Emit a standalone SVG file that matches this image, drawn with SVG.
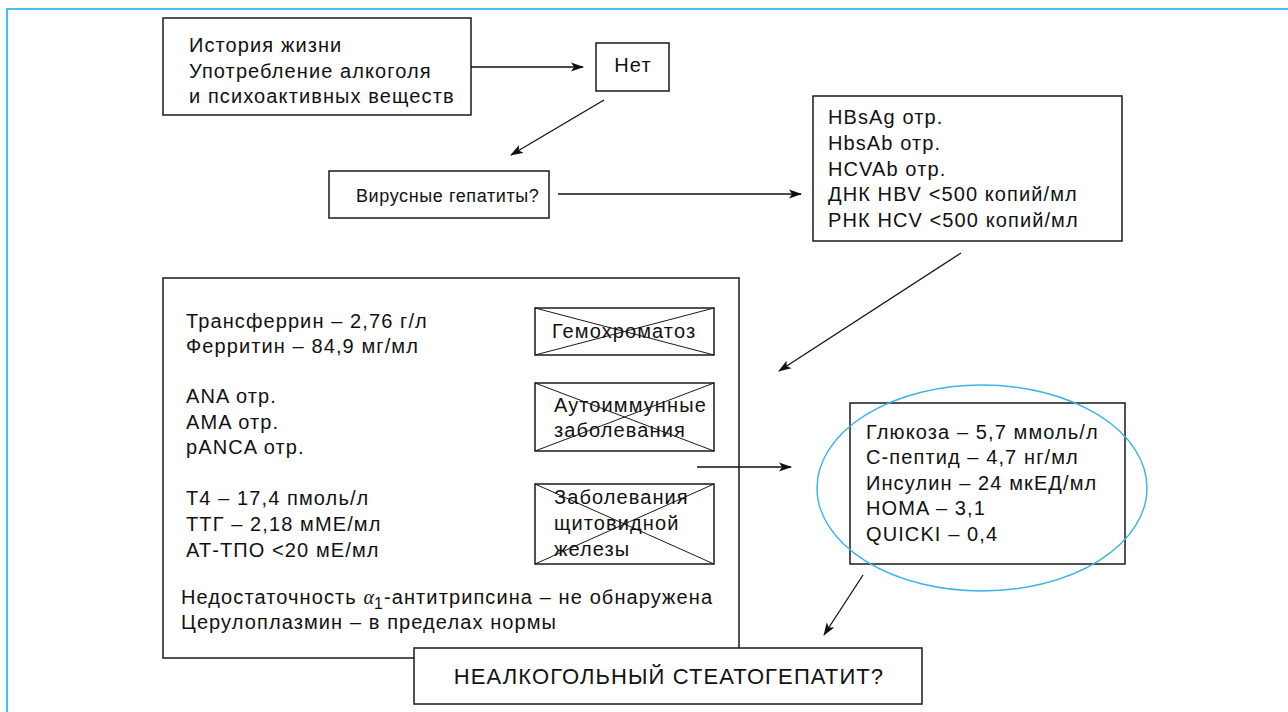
<svg xmlns="http://www.w3.org/2000/svg" width="1288" height="712" viewBox="0 0 1288 712">
  <style>
    .box { fill: #fff; stroke: #1a1a1a; stroke-width: 1.5; }
    .cross { stroke: #1a1a1a; stroke-width: 1; fill: none; }
    .frame { stroke: #45c0f0; stroke-width: 2; fill: none; }
    .conn { stroke: #111; stroke-width: 1.3; fill: none; marker-end: url(#arrow); }
    .t { font-family: "Liberation Sans", Arial, sans-serif; font-size: 20px; letter-spacing: 1.1px; fill: #111; }
  </style>
  <defs>
    <marker id="arrow" viewBox="0 0 13 10" refX="12" refY="5" markerWidth="13" markerHeight="10" markerUnits="userSpaceOnUse" orient="auto">
      <path d="M0,0.5 L13,5 L0,9.5 L3,5 Z" fill="#111"/>
    </marker>
  </defs>
  <rect width="1288" height="712" fill="#fff"/>
  <!-- page frame -->
  <path class="frame" d="M7,712 V9 H1288"/>

  <g id="history">
    <rect class="box" x="163" y="18" width="308" height="97"/>
    <text class="t" x="189" y="52">История жизни</text>
    <text class="t" x="189" y="78">Употребление алкоголя</text>
    <text class="t" x="189" y="103">и психоактивных веществ</text>
  </g>

  <g id="no">
    <rect class="box" x="596" y="43" width="73" height="48"/>
    <text class="t" x="633" y="72" text-anchor="middle">Нет</text>
  </g>

  <g id="viral">
    <rect class="box" x="329" y="171" width="220" height="47"/>
    <text class="t" x="356" y="202" style="font-size:18px;letter-spacing:0.6px">Вирусные гепатиты?</text>
  </g>

  <g id="viral-markers">
    <rect class="box" x="813" y="96" width="309" height="145"/>
    <text class="t" x="828" y="124">HBsAg отр.</text>
    <text class="t" x="828" y="150">HbsAb отр.</text>
    <text class="t" x="828" y="176">HCVAb отр.</text>
    <text class="t" x="828" y="201">ДНК HBV &lt;500 копий/мл</text>
    <text class="t" x="828" y="227">РНК HCV &lt;500 копий/мл</text>
  </g>

  <g id="exclusions">
    <rect class="box" x="163" y="278" width="576" height="380"/>
    <text class="t" x="186" y="328">Трансферрин – 2,76 г/л</text>
    <text class="t" x="186" y="353">Ферритин – 84,9 мг/мл</text>
    <text class="t" x="186" y="403">ANA отр.</text>
    <text class="t" x="186" y="429">AMA отр.</text>
    <text class="t" x="186" y="454">pANCA отр.</text>
    <text class="t" x="186" y="505">T4 – 17,4 пмоль/л</text>
    <text class="t" x="186" y="531">ТТГ – 2,18 мМЕ/мл</text>
    <text class="t" x="186" y="557">АТ-ТПО &lt;20 мЕ/мл</text>
    <text class="t" x="181" y="604">Недостаточность <tspan font-family="Liberation Serif, serif" font-style="italic" letter-spacing="0">α</tspan><tspan dy="5" font-size="16">1</tspan><tspan dy="-5">-антитрипсина – не обнаружена</tspan></text>
    <text class="t" x="181" y="629">Церулоплазмин – в пределах нормы</text>
  </g>

  <g id="hemochromatosis">
    <rect class="box" x="535" y="308" width="179" height="47"/>
    <path class="cross" d="M535,308 L714,355 M535,355 L714,308"/>
    <text class="t" x="552" y="338">Гемохроматоз</text>
  </g>

  <g id="autoimmune">
    <rect class="box" x="535" y="383" width="179" height="68"/>
    <path class="cross" d="M535,383 L714,451 M535,451 L714,383"/>
    <text class="t" x="554" y="412">Аутоиммунные</text>
    <text class="t" x="554" y="437">заболевания</text>
  </g>

  <g id="thyroid">
    <rect class="box" x="535" y="484" width="179" height="80"/>
    <path class="cross" d="M535,484 L714,564 M535,564 L714,484"/>
    <text class="t" x="554" y="504">Заболевания</text>
    <text class="t" x="554" y="530">щитовидной</text>
    <text class="t" x="554" y="556">железы</text>
  </g>

  <g id="metabolic">
    <rect class="box" x="850" y="403" width="275" height="161"/>
    <text class="t" x="866" y="439">Глюкоза – 5,7 ммоль/л</text>
    <text class="t" x="866" y="464">С-пептид – 4,7 нг/мл</text>
    <text class="t" x="866" y="490">Инсулин – 24 мкЕД/мл</text>
    <text class="t" x="866" y="515">HOMA – 3,1</text>
    <text class="t" x="866" y="541">QUICKI – 0,4</text>
    <ellipse cx="982" cy="488" rx="165" ry="103" fill="none" stroke="#3ab4e8" stroke-width="1.4"/>
  </g>

  <g id="conclusion">
    <rect class="box" x="414" y="648" width="508" height="56"/>
    <text class="t" x="669" y="684" text-anchor="middle" style="font-size:22px">НЕАЛКОГОЛЬНЫЙ СТЕАТОГЕПАТИТ?</text>
  </g>

  <g id="connectors">
    <line class="conn" x1="471" y1="67" x2="583" y2="67"/>
    <line class="conn" x1="604" y1="100" x2="511" y2="155"/>
    <line class="conn" x1="558" y1="194" x2="801" y2="194"/>
    <line class="conn" x1="961" y1="253" x2="779" y2="371"/>
    <line class="conn" x1="697" y1="467" x2="791" y2="467"/>
    <line class="conn" x1="863" y1="575" x2="824" y2="635"/>
  </g>
</svg>
